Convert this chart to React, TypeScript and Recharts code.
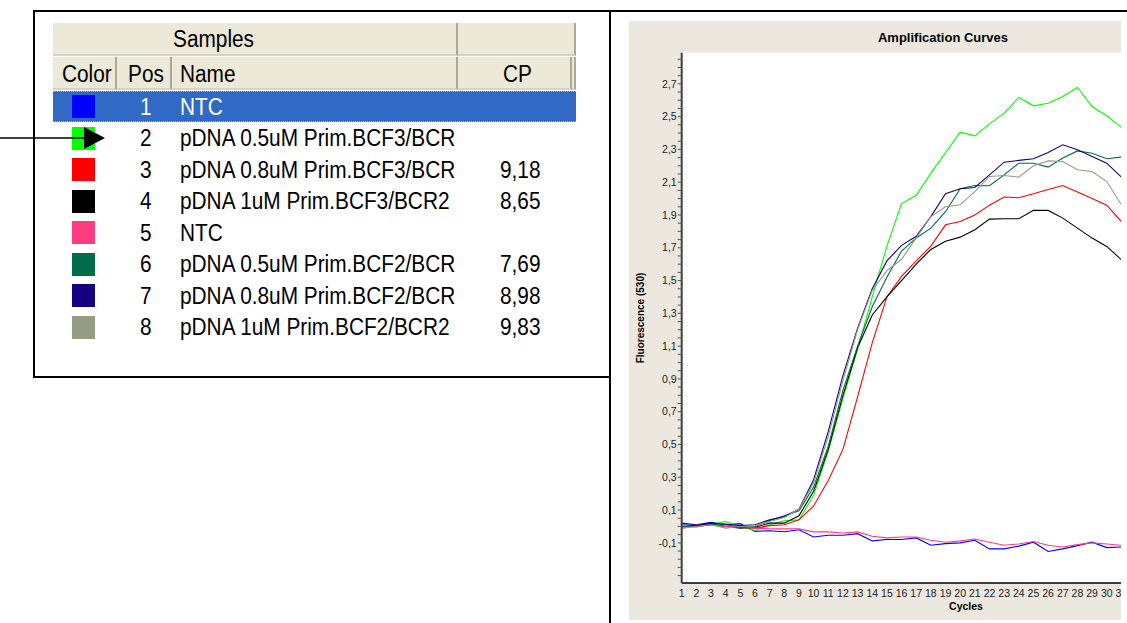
import { LineChart, Line, XAxis, YAxis, CartesianGrid } from "recharts";

// qPCR run, cycles 1..31 (the export cuts the plot off right after 31)
const cycles = [1, 2, 3, 4, 5, 6, 7, 8, 9, 10, 11, 12, 13, 14, 15, 16, 17, 18, 19, 20, 21, 22, 23, 24, 25, 26, 27, 28, 29, 30, 31];

const ntc1 = [0.02, 0.01, 0.025, 0.01, 0.017, -0.03, -0.026, -0.032, -0.02, -0.064, -0.054, -0.054, -0.044, -0.088, -0.08, -0.08, -0.07, -0.115, -0.105, -0.1, -0.084, -0.137, -0.137, -0.12, -0.096, -0.153, -0.137, -0.117, -0.096, -0.129, -0.125];
const bcf3_05 = [0.0, -0.005, 0.015, 0.03, 0.0, -0.025, 0.01, 0.035, 0.04, 0.19, 0.46, 0.78, 1.08, 1.4, 1.71, 1.97, 2.02, 2.155, 2.28, 2.405, 2.383, 2.456, 2.521, 2.617, 2.566, 2.582, 2.623, 2.678, 2.562, 2.505, 2.434];
const bcf3_08 = [-0.01, 0.01, 0.01, 0.0, -0.005, -0.01, 0.005, 0.01, 0.04, 0.125, 0.28, 0.47, 0.79, 1.12, 1.4, 1.525, 1.62, 1.71, 1.84, 1.86, 1.9, 1.96, 2.01, 2.005, 2.03, 2.055, 2.08, 2.04, 2.0, 1.96, 1.86];
const bcf3_1 = [-0.005, 0.005, 0.015, 0.0, -0.01, -0.005, 0.02, 0.02, 0.065, 0.215, 0.47, 0.8, 1.09, 1.29, 1.4, 1.5, 1.6, 1.69, 1.74, 1.765, 1.81, 1.875, 1.877, 1.877, 1.928, 1.928, 1.881, 1.82, 1.759, 1.708, 1.627];
const ntc5 = [-0.01, 0.005, 0.01, 0.0, 0.0, -0.01, -0.015, -0.015, -0.015, -0.033, -0.033, -0.04, -0.033, -0.06, -0.07, -0.064, -0.064, -0.084, -0.096, -0.088, -0.077, -0.096, -0.115, -0.107, -0.092, -0.115, -0.125, -0.111, -0.1, -0.107, -0.115];
const bcf2_05 = [0.0, 0.0, 0.01, 0.01, -0.005, 0.0, 0.035, 0.065, 0.095, 0.24, 0.49, 0.83, 1.1, 1.34, 1.52, 1.68, 1.76, 1.82, 1.92, 2.06, 2.08, 2.078, 2.145, 2.216, 2.216, 2.192, 2.247, 2.291, 2.277, 2.243, 2.253];
const bcf2_08 = [0.01, 0.005, 0.02, 0.015, 0.005, 0.01, 0.04, 0.06, 0.105, 0.285, 0.58, 0.92, 1.21, 1.45, 1.62, 1.715, 1.77, 1.89, 2.03, 2.06, 2.068, 2.145, 2.222, 2.233, 2.243, 2.281, 2.328, 2.298, 2.257, 2.216, 2.131];
const bcf2_1 = [-0.01, 0.0, 0.01, -0.01, 0.0, 0.005, 0.03, 0.055, 0.105, 0.265, 0.55, 0.89, 1.2, 1.44, 1.56, 1.63, 1.76, 1.89, 1.95, 1.962, 2.043, 2.135, 2.141, 2.131, 2.2, 2.23, 2.226, 2.176, 2.165, 2.104, 1.962];

// sample table
const samplePos = [1, 2, 3, 4, 5, 6, 7, 8];
const sampleNames = [
  "NTC",
  "pDNA 0.5uM Prim.BCF3/BCR",
  "pDNA 0.8uM Prim.BCF3/BCR",
  "pDNA 1uM Prim.BCF3/BCR2",
  "NTC",
  "pDNA 0.5uM Prim.BCF2/BCR",
  "pDNA 0.8uM Prim.BCF2/BCR",
  "pDNA 1uM Prim.BCF2/BCR2",
];
const sampleCp = ["", "", "9,18", "8,65", "", "7,69", "8,98", "9,83"];
const sampleColors = ["#0000FF", "#00FF00", "#FF0000", "#000000", "#FF3C82", "#006C4A", "#140080", "#949C84"];
const seriesKeys = ["s1", "s2", "s3", "s4", "s5", "s6", "s7", "s8"];

const yMajor = [-0.1, 0.1, 0.3, 0.5, 0.7, 0.9, 1.1, 1.3, 1.5, 1.7, 1.9, 2.1, 2.3, 2.5, 2.7];
const yTicks = [
  -0.3, -0.25, -0.2, -0.15, -0.1, -0.05, 0, 0.05, 0.1, 0.15, 0.2, 0.25, 0.3, 0.35, 0.4, 0.45, 0.5, 0.55, 0.6, 0.65,
  0.7, 0.75, 0.8, 0.85, 0.9, 0.95, 1, 1.05, 1.1, 1.15, 1.2, 1.25, 1.3, 1.35, 1.4, 1.45, 1.5, 1.55, 1.6, 1.65, 1.7,
  1.75, 1.8, 1.85, 1.9, 1.95, 2, 2.05, 2.1, 2.15, 2.2, 2.25, 2.3, 2.35, 2.4, 2.45, 2.5, 2.55, 2.6, 2.65, 2.7, 2.75,
  2.8, 2.85,
];

const allSeries = [ntc1, bcf3_05, bcf3_08, bcf3_1, ntc5, bcf2_05, bcf2_08, bcf2_1];
const data = cycles.map((c, i) => {
  const row: Record<string, number> = { cycle: c };
  seriesKeys.forEach((k, j) => (row[k] = allSeries[j][i]));
  return row;
});

const majorSet = new Set(yMajor.map((v) => Math.round(v * 100)));
function fmtY(v: number) {
  const r = Math.round(v * 100);
  return majorSet.has(r) ? (r / 100).toFixed(1).replace(".", ",") : "";
}

const tableFont = "'Liberation Sans', Arial, sans-serif";
const chartFont = "Arial, 'Liberation Sans', sans-serif";
const hdrBg = "#ECE9D8";

function Txt({ children, left, top, color = "#000" }: { children: any; left: number; top: number; color?: string }) {
  return (
    <div
      style={{
        position: "absolute",
        left,
        top,
        fontFamily: tableFont,
        fontSize: 23,
        lineHeight: "26px",
        color,
        whiteSpace: "nowrap",
        transform: "scaleX(0.905)",
        transformOrigin: "left center",
      }}
    >
      {children}
    </div>
  );
}

function HeaderCell({ left, width, top, height }: { left: number; width: number; top: number; height: number }) {
  return (
    <div
      style={{
        position: "absolute",
        left,
        top,
        width,
        height,
        background: hdrBg,
        boxSizing: "border-box",
        borderRight: "2px solid #ACA899",
        borderBottom: "2px solid #D6D2C2",
      }}
    />
  );
}

function SampleTable() {
  const rowTop = 91;
  const rowH = 31.5;
  return (
    <>
      {/* header rows */}
      <HeaderCell left={53} width={405} top={23} height={33} />
      <HeaderCell left={458} width={118} top={23} height={33} />
      <HeaderCell left={53} width={64} top={57} height={33} />
      <HeaderCell left={117} width={55} top={57} height={33} />
      <HeaderCell left={172} width={286} top={57} height={33} />
      <HeaderCell left={458} width={114} top={57} height={33} />
      <HeaderCell left={572} width={4} top={57} height={33} />
      <Txt left={173} top={26}>Samples</Txt>
      <Txt left={62} top={61}>Color</Txt>
      <Txt left={128} top={61}>Pos</Txt>
      <Txt left={180} top={61}>Name</Txt>
      <Txt left={503} top={61}>CP</Txt>

      {/* selected row */}
      <div
        style={{
          position: "absolute",
          left: 53,
          top: rowTop,
          width: 523,
          height: 31,
          background: "#316AC5",
          boxSizing: "border-box",
          borderTop: "1px dotted #D8B048",
          borderBottom: "1px dotted #D8B048",
        }}
      />

      {samplePos.map((p, i) => {
        const cy = rowTop + 15.5 + i * rowH;
        const sel = i === 0;
        return (
          <div key={p}>
            <div
              style={{
                position: "absolute",
                left: 72,
                top: cy - 11.5,
                width: 23,
                height: 23,
                background: sampleColors[i],
              }}
            />
            <Txt left={140} top={cy - 13} color={sel ? "#fff" : "#000"}>{p}</Txt>
            <Txt left={180} top={cy - 13} color={sel ? "#fff" : "#000"}>{sampleNames[i]}</Txt>
            {sampleCp[i] && <Txt left={500} top={cy - 13}>{sampleCp[i]}</Txt>}
          </div>
        );
      })}
    </>
  );
}

function AmpChart() {
  return (
    <div
      style={{
        position: "absolute",
        left: 629,
        top: 21,
        width: 492,
        height: 599,
        background: "#ECE8E0",
        overflow: "hidden",
      }}
    >
      <div
        style={{
          position: "absolute",
          left: 0,
          width: 628,
          top: 9,
          textAlign: "center",
          fontFamily: chartFont,
          fontWeight: "bold",
          fontSize: 13,
        }}
      >
        Amplification Curves
      </div>
      <div
        style={{
          position: "absolute",
          left: 12 - 50,
          top: 296.7 - 7,
          width: 100,
          textAlign: "center",
          fontFamily: chartFont,
          fontWeight: "bold",
          fontSize: 10,
          lineHeight: "14px",
          transform: "rotate(-90deg)",
        }}
      >
        Fluorescence (530)
      </div>
      <div
        style={{
          position: "absolute",
          left: 337 - 40,
          top: 579,
          width: 80,
          textAlign: "center",
          fontFamily: chartFont,
          fontWeight: "bold",
          fontSize: 10.5,
        }}
      >
        Cycles
      </div>
      <div style={{ position: "absolute", left: 0, top: 0 }}>
        <LineChart width={530} height={599} data={data} margin={{ top: 31.7, right: 37.6, bottom: 0, left: 0 }}>
          <CartesianGrid fill="#ffffff" stroke="none" />
          <XAxis
            xAxisId="top"
            orientation="top"
            type="number"
            dataKey="cycle"
            domain={[1, 31]}
            height={0}
            tick={false}
            tickLine={false}
            axisLine={{ stroke: "#505050", strokeWidth: 2 }}
          />
          <XAxis
            type="number"
            dataKey="cycle"
            domain={[1, 31]}
            ticks={cycles}
            interval={0}
            height={37}
            tickLine={false}
            tickMargin={1}
            axisLine={{ stroke: "#000", strokeWidth: 1.5 }}
            tick={{ fill: "#222", fontSize: 10.5, fontFamily: chartFont }}
          />
          <YAxis
            type="number"
            domain={[-0.345, 2.89]}
            ticks={yTicks}
            interval={0}
            width={52.7}
            tickSize={4}
            tickMargin={1}
            tickFormatter={fmtY}
            allowDataOverflow
            axisLine={{ stroke: "#404040", strokeWidth: 2 }}
            tickLine={{ stroke: "#555" }}
            tick={{ fill: "#222", fontSize: 10.5, fontFamily: chartFont }}
          />
          {seriesKeys.map((k, j) => (
            <Line
              key={k}
              type="linear"
              dataKey={k}
              stroke={sampleColors[j]}
              strokeWidth={1.1}
              dot={false}
              isAnimationActive={false}
            />
          ))}
        </LineChart>
      </div>
    </div>
  );
}

export default function App() {
  return (
    <div
      style={{
        position: "absolute",
        left: 0,
        top: 0,
        width: 1127,
        height: 623,
        background: "#fff",
        overflow: "hidden",
      }}
    >
      {/* frames */}
      <div style={{ position: "absolute", left: 33, top: 10, width: 1094, height: 2, background: "#000" }} />
      <div style={{ position: "absolute", left: 33, top: 10, width: 2, height: 368, background: "#000" }} />
      <div style={{ position: "absolute", left: 33, top: 376, width: 577, height: 2, background: "#000" }} />
      <div style={{ position: "absolute", left: 609, top: 10, width: 2, height: 613, background: "#000" }} />

      <SampleTable />

      {/* arrow pointing at sample 2 */}
      <svg style={{ position: "absolute", left: 0, top: 0 }} width={120} height={200}>
        <line x1={0} y1={138} x2={88} y2={138} stroke="#000" strokeWidth={1.5} />
        <polygon points="84,127 105,138 84,149" fill="#000" />
      </svg>

      <AmpChart />
    </div>
  );
}
